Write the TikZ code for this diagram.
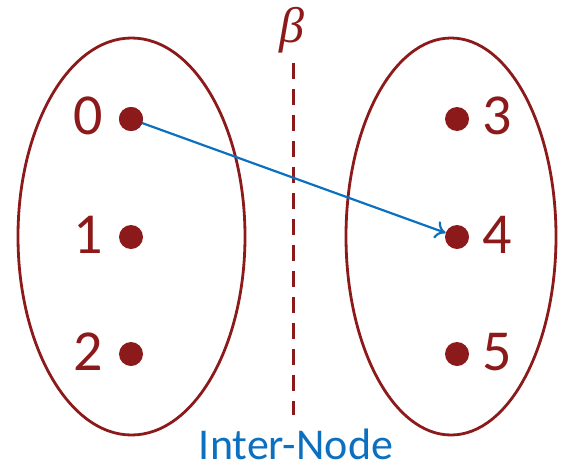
\documentclass[tikz,border=0pt]{standalone}
\usepackage{fontspec}
\setmainfont{Carlito}
\newfontfamily\grkfont{Liberation Serif}
\usetikzlibrary{arrows.meta}
\definecolor{dred}{HTML}{8C1A1A}
\definecolor{lblue}{HTML}{0B70BF}
\begin{document}
\begin{tikzpicture}[x=1pt,y=-1pt,
  dot/.style={circle,fill=dred,inner sep=0pt,minimum size=24pt},
  num/.style={text=dred,font=\fontsize{58}{58}\selectfont,inner sep=0pt},
  grp/.style={draw=dred,line width=2.8pt},
  link/.style={draw=lblue,line width=2.2pt,-{To[length=10pt,width=18pt,line width=2.2pt]}}]
\useasboundingbox (0,0) rectangle (561,471);
\draw[grp] (131.5,236.5) ellipse [x radius=113.5, y radius=198.5];
\draw[grp] (451,236.5) ellipse [x radius=105, y radius=198.5];
\node[dot] (d0) at (131,119) {};
\node[dot] (d1) at (131,237) {};
\node[dot] (d2) at (131,354) {};
\node[dot] (d3) at (457,119) {};
\node[dot] (d4) at (457,237) {};
\node[dot] (d5) at (457,354) {};
\node[num] (l0) at (88,116) {0};
\node[num] (l1) at (88,235) {1};
\node[num] (l2) at (88,352) {2};
\node[num] (l3) at (497,116) {3};
\node[num] (l4) at (497,235) {4};
\node[num] (l5) at (497,352) {5};
\coordinate (top) at (293,63);
\coordinate (bot) at (293,415);
\draw[dred,line width=3pt,dash pattern=on 16pt off 10pt] (top) -- (bot);
\node[text=dred,font=\grkfont\itshape\fontsize{50}{50}\selectfont,inner sep=0pt] (beta) at (292,30) {β};
\node[text=lblue,font=\fontsize{44}{44}\selectfont,anchor=base,inner sep=0pt] (inter) at (296,459) {Inter-Node};
\draw[link] (d0.center) -- (d4);
\fill[dred] (d0) circle (12pt);
\end{tikzpicture}
\end{document}
